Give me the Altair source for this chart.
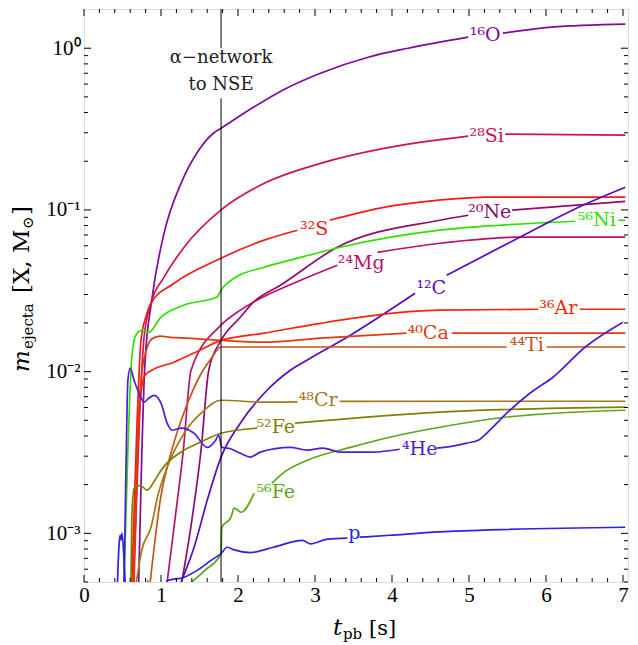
import altair as alt
import pandas as pd

FONT = "DejaVu Serif"
TICKFONT = "Liberation Serif"

species = ["16O", "28Si", "32S", "20Ne", "24Mg", "56Ni", "12C", "36Ar",
           "40Ca", "44Ti", "48Cr", "52Fe", "56Fe", "4He", "p"]
species_text = ["¹⁶O", "²⁸Si", "³²S", "²⁰Ne", "²⁴Mg", "⁵⁶Ni", "¹²C", "³⁶Ar",
                "⁴⁰Ca", "⁴⁴Ti", "⁴⁸Cr", "⁵²Fe", "⁵⁶Fe", "⁴He", "p"]
colors = ["#7d0a9c", "#d0124f", "#f41a1a", "#8e0c6c", "#b8136a", "#2ee000",
          "#5a08c8", "#fb2308", "#dd3c10", "#c2561a", "#a47818", "#7f7f00",
          "#5ea51c", "#4f1bd6", "#2a22e6"]

O16_t = [0.71, 0.75, 0.79, 0.88, 1.04, 1.26, 1.49, 1.68, 1.78, 2.2, 2.58, 3.07, 3.69, 4.21, 4.99, 5.44, 6.07, 7.03]
O16_m = [5e-4, 3e-3, 0.011, 0.0277, 0.0718, 0.146, 0.234, 0.298, 0.32, 0.431, 0.55, 0.70, 0.88, 1.0, 1.17, 1.24, 1.35, 1.41]

Si28_t = [0.64, 0.73, 0.78, 0.87, 1.04, 1.30, 1.78, 2.34, 3.07, 3.91, 4.99, 5.47, 7.03]
Si28_m = [5e-4, 6.65e-3, 0.0163, 0.0265, 0.0384, 0.0588, 0.1, 0.146, 0.194, 0.241, 0.286, 0.294, 0.29]

S32_t = [0.62, 0.69, 0.74, 0.81, 0.87, 1.17, 1.78, 2.34, 2.77, 3.19, 3.91, 4.77, 5.21, 7.03]
S32_m = [5e-4, 5e-3, 0.0156, 0.0223, 0.0265, 0.0352, 0.0503, 0.065, 0.0749, 0.0863, 0.104, 0.1165, 0.12, 0.12]

Ne20_t = [1.27, 1.40, 1.52, 1.62, 1.78, 2.03, 2.2, 2.55, 3.29, 4.62, 4.99, 5.56, 7.03]
Ne20_m = [5e-4, 1.2e-3, 3.27e-3, 0.0102, 0.0156, 0.0217, 0.0269, 0.0342, 0.0588, 0.0863, 0.0927, 0.0996, 0.113]

Mg24_t = [1.08, 1.18, 1.29, 1.39, 1.78, 2.03, 2.2, 2.77, 3.29, 3.81, 4.62, 5.66, 7.03]
Mg24_m = [5e-4, 1.2e-3, 3.27e-3, 0.0102, 0.0194, 0.024, 0.0269, 0.036, 0.0455, 0.0547, 0.0622, 0.0678, 0.0678]

Ni56_t = [0.52, 0.57, 0.61, 0.65, 0.69, 0.75, 0.84, 1.0, 1.3, 1.73, 1.78, 1.95, 2.34, 2.68, 3.33, 4.62, 5.4, 6.38, 6.94, 7.03]
Ni56_m = [5e-4, 3.27e-3, 0.0102, 0.0156, 0.0173, 0.018, 0.0175, 0.0217, 0.0258, 0.0289, 0.0319, 0.0378, 0.0442, 0.0489, 0.0588, 0.0749, 0.0804, 0.0851, 0.0863, 0.0863]

C12_t = [1.26, 1.43, 1.6, 1.78, 2.03, 2.34, 2.68, 2.9, 3.46, 4.3, 4.71, 5.66, 6.35, 7.03]
C12_m = [5e-4, 8.2e-4, 1.6e-3, 2.96e-3, 4.8e-3, 7.35e-3, 0.0102, 0.0118, 0.0168, 0.0305, 0.0395, 0.0678, 0.1, 0.138]

Ar36_t = [0.65, 0.70, 0.73, 0.79, 0.88, 1.16, 1.51, 1.78, 2.34, 3.07, 4.62, 5.9, 6.44, 7.03]
Ar36_m = [5e-4, 3.27e-3, 6.65e-3, 9.5e-3, 0.0102, 0.0114, 0.0136, 0.0156, 0.0173, 0.0199, 0.024, 0.0243, 0.0243, 0.0243]

Ca40_t = [0.64, 0.69, 0.74, 0.81, 0.88, 0.99, 1.12, 1.34, 1.52, 1.78, 2.34, 3.07, 4.19, 4.78, 7.03]
Ca40_m = [5e-4, 3.27e-3, 8.85e-3, 0.0136, 0.0159, 0.0166, 0.0163, 0.0161, 0.0159, 0.0156, 0.0152, 0.0161, 0.0173, 0.0173, 0.0173]

Ti44_t = [0.86, 0.99, 1.14, 1.31, 1.51, 1.65, 1.78, 5.49, 6.01, 7.03]
Ti44_m = [5e-4, 1.6e-3, 3.27e-3, 5.77e-3, 9.5e-3, 0.012, 0.0142, 0.0142, 0.0142, 0.0142]

Cr48_t = [0.68, 0.75, 0.87, 0.96, 1.08, 1.3, 1.52, 1.78, 2.34, 2.77, 3.32, 7.03]
Cr48_m = [5e-4, 7.86e-4, 1.09e-3, 1.72e-3, 2.56e-3, 4.16e-3, 5.53e-3, 6.65e-3, 6.47e-3, 6.5e-3, 6.55e-3, 6.56e-3]

Fe52_t = [0.61, 0.62, 0.65, 0.73, 0.82, 0.92, 1.0, 1.3, 1.51, 1.78, 2.25, 2.74, 4.62, 7.03]
Fe52_m = [5e-4, 1.2e-3, 1.9e-3, 1.98e-3, 1.85e-3, 2.13e-3, 2.45e-3, 3.27e-3, 3.66e-3, 4.16e-3, 4.47e-3, 4.8e-3, 5.61e-3, 6.03e-3]

Fe56_t = [1.4, 1.57, 1.78, 1.79, 1.91, 1.95, 2.04, 2.21, 2.44, 2.58, 2.9, 3.46, 3.97, 4.62, 5.47, 7.03]
Fe56_m = [5e-4, 5.9e-4, 7.5e-4, 1.09e-3, 1.26e-3, 1.43e-3, 1.35e-3, 1.77e-3, 2.04e-3, 2.35e-3, 2.83e-3, 3.4e-3, 3.93e-3, 4.53e-3, 5.22e-3, 5.77e-3]

He4_t = [0.52, 0.545, 0.57, 0.60, 0.65, 0.71, 0.78, 0.84, 0.91, 1.0, 1.08, 1.14, 1.26, 1.43, 1.6, 1.71, 1.75,
         1.79, 1.88, 2.03, 2.16, 2.29, 2.68, 2.9, 3.1, 3.33, 3.75, 4.1, 4.58, 4.79, 4.97, 5.12, 5.27, 5.49,
         5.79, 6.09, 6.51, 7.0]
He4_m = [5e-4, 2.46e-3, 8.85e-3, 0.0105, 8.85e-3, 7.46e-3, 6.47e-3, 6.84e-3, 7.14e-3, 6.38e-3, 4.8e-3, 4.34e-3,
         4.47e-3, 4.16e-3, 3.4e-3, 3.77e-3, 4.04e-3, 3.4e-3, 3.36e-3, 3.13e-3, 2.96e-3, 3.18e-3, 3.4e-3, 3.27e-3,
         3.36e-3, 3.18e-3, 3.18e-3, 3.31e-3, 3.36e-3, 3.46e-3, 3.61e-3, 3.77e-3, 4.34e-3, 5.53e-3, 7.35e-3,
         9.23e-3, 0.0142, 0.0202]

p_t = [0.42, 0.455, 0.468, 0.48, 0.494, 0.52, 0.545, 0.6, 0.8, 0.83, 0.86, 0.9, 1.0, 1.08, 1.3, 1.47, 1.65,
       1.78, 1.86, 1.95, 2.16, 2.46, 2.84, 2.94, 3.16, 3.42, 3.58, 3.97, 4.62, 7.03]
p_m = [3e-4, 8.4e-4, 9.7e-4, 9.1e-4, 1.0e-3, 6.8e-4, 4e-4, 2e-4, 3e-4, 5.1e-4, 3e-4, 2.5e-4, 3e-4, 5.1e-4,
       5.35e-4, 5.9e-4, 6.8e-4, 7.5e-4, 8.2e-4, 7.9e-4, 7.6e-4, 8.2e-4, 9.05e-4, 8.6e-4, 9.2e-4, 9.33e-4,
       9.46e-4, 9.73e-4, 1.02e-3, 1.09e-3]

series_t = [O16_t, Si28_t, S32_t, Ne20_t, Mg24_t, Ni56_t, C12_t, Ar36_t, Ca40_t, Ti44_t, Cr48_t, Fe52_t, Fe56_t, He4_t, p_t]
series_m = [O16_m, Si28_m, S32_m, Ne20_m, Mg24_m, Ni56_m, C12_m, Ar36_m, Ca40_m, Ti44_m, Cr48_m, Fe52_m, Fe56_m, He4_m, p_m]

# where each curve is interrupted by its label
gap_lo = [4.99, 4.99, 2.77, 4.99, 3.29, 6.38, 4.30, 5.90, 4.19, 5.49, 2.77, 2.25, 2.22, 4.10, 3.42]
gap_hi = [5.44, 5.47, 3.19, 5.56, 3.81, 6.94, 4.71, 6.44, 4.78, 6.01, 3.32, 2.74, 2.44, 4.58, 3.58]

# label anchor positions
label_t = [5.21, 5.23, 2.99, 5.27, 3.60, 6.66, 4.51, 6.16, 4.47, 5.75, 3.04, 2.49, 2.49, 4.36, 3.51]
label_m = [1.2, 0.286, 0.076, 0.0968, 0.0468, 0.0863, 0.0328, 0.0247, 0.0173, 0.0146, 6.65e-3, 4.53e-3, 1.8e-3, 3.31e-3, 1.0e-3]

Y_TOP = 1.748
x_major = [0, 1, 2, 3, 4, 5, 6, 7]
x_minor = [round(i * 0.2, 1) for i in range(36) if i % 5 != 0]
y_major = [1e-3, 1e-2, 1e-1, 1.0]
y_minor = [k * 10.0 ** d for d in range(-4, 1) for k in range(2, 10) if 5e-4 <= k * 10.0 ** d <= Y_TOP]

vline_t = 1.78
vline_lo = [1.0, 5e-4]
vline_hi = [Y_TOP, 0.49]
annot_text = ["α−network", "to NSE"]
annot_m = [0.867, 0.59]

rows = []
for sp, ts, ms, lo, hi in zip(species, series_t, series_m, gap_lo, gap_hi):
    for t, m in zip(ts, ms):
        if lo < t < hi:
            continue
        rows.append({"species": sp, "t": t, "m": m, "seg": sp + ("a" if t <= lo else "b")})
df = pd.DataFrame(rows)
lab_df = pd.DataFrame({"species": species, "text": species_text, "t": label_t, "m": label_m})

W, H = 544, 573
xs = alt.Scale(domain=[0, 7.065], nice=False, zero=False)
ys = alt.Scale(type="log", domain=[5e-4, Y_TOP], nice=False)
cs = alt.Scale(domain=species, range=colors)

label_expr = ("datum.value >= 0.5 ? '10⁰' : datum.value >= 0.05 ? '10⁻¹' : "
              "datum.value >= 0.005 ? '10⁻²' : '10⁻³'")

lines = alt.Chart(df).mark_line(strokeWidth=1.7, clip=True, interpolate="monotone").encode(
    x=alt.X("t:Q", scale=xs, axis=alt.Axis(values=x_major, format="d", title=None, tickSize=0, domain=False,
                                           grid=False, labelFont=TICKFONT, labelFontSize=21, labelColor="black",
                                           labelPadding=2, labelFlush=False)),
    y=alt.Y("m:Q", scale=ys, axis=alt.Axis(values=y_major, labelExpr=label_expr, title=None, tickSize=0,
                                           domain=False, grid=False, labelFont=TICKFONT, labelFontSize=21,
                                           labelColor="black", labelPadding=4)),
    color=alt.Color("species:N", scale=cs, legend=None),
    detail="seg:N",
)

labels = alt.Chart(lab_df).mark_text(font=FONT, fontSize=19, baseline="middle", align="center").encode(
    x=alt.X("t:Q", scale=xs), y=alt.Y("m:Q", scale=ys),
    text="text:N", color=alt.Color("species:N", scale=cs, legend=None),
)

vdf = pd.DataFrame({"t": [vline_t, vline_t], "m": vline_lo, "m2": vline_hi})
vline = alt.Chart(vdf).mark_rule(color="black", strokeWidth=1).encode(
    x=alt.X("t:Q", scale=xs), y=alt.Y("m:Q", scale=ys), y2="m2:Q")

adf = pd.DataFrame({"t": [vline_t, vline_t], "m": annot_m, "text": annot_text})
annot = alt.Chart(adf).mark_text(font=FONT, fontSize=18, color="#222222", align="center",
                                 baseline="middle").encode(
    x=alt.X("t:Q", scale=xs), y=alt.Y("m:Q", scale=ys), text="text:N")

def xticks(vals, ln):
    d = pd.DataFrame({"t": vals})
    b = alt.Chart(d).mark_rule(color="black", strokeWidth=1).encode(
        x=alt.X("t:Q", scale=xs), y=alt.value(H), y2=alt.value(H - ln))
    t = alt.Chart(d).mark_rule(color="black", strokeWidth=1).encode(
        x=alt.X("t:Q", scale=xs), y=alt.value(0), y2=alt.value(ln))
    return [b, t]

def yticks(vals, ln):
    d = pd.DataFrame({"m": vals})
    l = alt.Chart(d).mark_rule(color="black", strokeWidth=1).encode(
        y=alt.Y("m:Q", scale=ys), x=alt.value(0), x2=alt.value(ln))
    r = alt.Chart(d).mark_rule(color="black", strokeWidth=1).encode(
        y=alt.Y("m:Q", scale=ys), x=alt.value(W), x2=alt.value(W - ln))
    return [l, r]

one = pd.DataFrame({"k": [0]})
def txt(s, x, y, size, style="normal", angle=0):
    return alt.Chart(one).mark_text(text=s, font=FONT, fontSize=size, fontStyle=style, angle=angle,
                                    align="left", baseline="alphabetic", color="black").encode(
        x=alt.value(x), y=alt.value(y))

titles = [
    txt("t", 249, H + 53, 23, "italic"),
    txt("pb", 259, H + 57, 15),
    txt("[s]", 285, H + 53, 21),
    txt("m", -55, 363, 23, "italic", 270),
    txt("ejecta", -51, 340, 15, "normal", 270),
    txt("[X, M", -55, 284, 23, "normal", 270),
    txt("⊙", -51, 220, 15, "normal", 270),
    txt("]", -55, 206, 23, "normal", 270),
]

layers = [lines, vline, annot, labels] + xticks(x_major, 7) + xticks(x_minor, 4) + \
    yticks(y_major, 7) + yticks(y_minor, 4) + titles

chart = alt.layer(*layers).properties(
    width=W, height=H, padding={"left": 76, "top": 1, "right": 1, "bottom": 62},
    autosize=alt.AutoSizeParams(type="none"),
).configure_view(stroke="black", strokeWidth=1.2).configure(background="white")

chart.save("out.html", embed_options={"renderer": "svg", "actions": False})
